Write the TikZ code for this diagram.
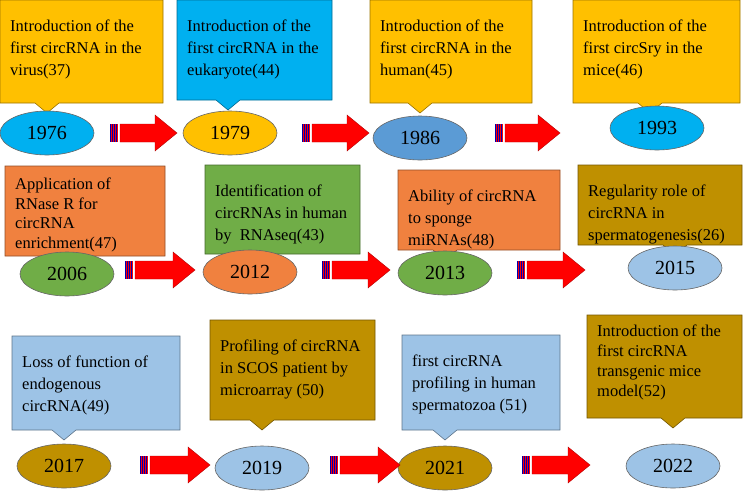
\documentclass[tikz,border=0pt]{standalone}
\usepackage{fontspec}
\setmainfont{Liberation Serif}
\usetikzlibrary{shapes.geometric}
\definecolor{gold}{HTML}{FFC000}
\definecolor{sky}{HTML}{00B0F0}
\definecolor{mblue}{HTML}{5B9BD5}
\definecolor{orng}{HTML}{F0813F}
\definecolor{grn}{HTML}{70AD47}
\definecolor{olive}{HTML}{BF9000}
\definecolor{lblue}{HTML}{9DC3E6}
\tikzset{
 box/.style={draw=#1!60!black,line width=0.6pt},
 txt/.style={anchor=north west,align=left,inner sep=0pt,font=\fontsize{16.5}{22}\selectfont},
 yr/.style={ellipse,draw=black!60,line width=0.6pt,minimum width=94pt,minimum height=44pt,font=\fontsize{20}{24}\selectfont,inner sep=0pt},
}
\newcommand{\callout}[8]{% x1 y1 x2 y2 px fill name text
 \fill[#6,box=#6] (#1,#2) -- (#3,#2) -- (#3,#4) -- (#5+12,#4) -- (#5,#4+10) -- (#5-12,#4) -- (#1,#4) -- cycle;
 \node[txt] (#7) at (#1+10,#2+20) {#8};}
\newcommand{\tlarrow}[4]{% x1 x2 y name
 \coordinate (#4) at (#1,#3);
 \fill[blue!70!black] (#1,#3-9) rectangle (#1+8,#3+9);
 \foreach \i in {1,3,5,7}{\fill[red] (#1+\i,#3-9) rectangle (#1+\i+1,#3+9);}
 \fill[red,draw=red!70!black] (#1+10,#3-9) -- (#2-22,#3-9) -- (#2-22,#3-18) -- (#2,#3) -- (#2-22,#3+18) -- (#2-22,#3+9) -- (#1+10,#3+9) -- cycle;}
\begin{document}
\begin{tikzpicture}[x=1pt,y=-1pt]
\useasboundingbox (0,0) rectangle (744,491);
% row 1
\callout{0}{0}{163}{103}{47}{gold}{b1}{Introduction of the\\first circRNA in the\\virus(37)}
\node[yr,fill=sky] (y1976) at (47,133) {1976};
\callout{177}{0}{332}{100}{228}{sky}{b2}{Introduction of the\\first circRNA in the\\eukaryote(44)}
\node[yr,fill=gold] (y1979) at (230,133) {1979};
\callout{370}{0}{532}{103}{420}{gold}{b3}{Introduction of the\\first circRNA in the\\human(45)}
\node[yr,fill=mblue] (y1986) at (420,138) {1986};
\callout{573}{0}{740}{103}{650}{gold}{b4}{Introduction of the\\first circSry in the\\mice(46)}
\node[yr,fill=sky] (y1993) at (657,128) {1993};
\tlarrow{110}{177}{133}{a1}
\tlarrow{302}{369}{133}{a2}
\tlarrow{495}{560}{133}{a3}
% row 2
\fill[orng,box=orng] (5,166) -- (165,166) -- (165,256) -- (79,256) -- (67,266) -- (55,256) -- (5,256) -- cycle;
\node[txt,font=\fontsize{16.5}{19.5}\selectfont] (b5) at (15,178) {Application of\\RNase R for\\circRNA\\enrichment(47)};
\node[yr,fill=grn] (y2006) at (67,274) {2006};
\callout{205}{165}{360}{254}{250}{grn}{b6}{Identification of\\circRNAs in human\\by~ RNAseq(43)}
\node[yr,fill=orng] (y2012) at (250,272) {2012};
\callout{398}{170}{560}{250}{445}{orng}{b7}{Ability of circRNA\\to sponge\\miRNAs(48)}
\node[yr,fill=grn] (y2013) at (445,273) {2013};
\callout{578}{165}{742}{245}{675}{olive}{b8}{Regularity role of\\circRNA in\\spermatogenesis(26)}
\node[yr,fill=lblue] (y2015) at (675,268) {2015};
\tlarrow{125}{195}{270}{a4}
\tlarrow{322}{390}{270}{a5}
\tlarrow{517}{585}{270}{a6}
% row 3
\callout{12}{336}{180}{430}{64}{lblue}{b9}{Loss of function of\\endogenous\\circRNA(49)}
\node[yr,fill=olive] (y2017) at (64,466) {2017};
\callout{210}{320}{375}{420}{262}{olive}{b10}{Profiling of circRNA\\in SCOS patient by\\microarray (50)}
\node[yr,fill=lblue] (y2019) at (262,468) {2019};
\callout{402}{335}{560}{430}{445}{lblue}{b11}{first circRNA\\profiling in human\\spermatozoa (51)}
\node[yr,fill=olive] (y2021) at (445,468) {2021};
\fill[olive,box=olive] (587,315) -- (742,315) -- (742,418) -- (685,418) -- (673,428) -- (661,418) -- (587,418) -- cycle;
\node[txt,font=\fontsize{16.5}{20}\selectfont] (b12) at (597,325) {Introduction of the\\first circRNA\\transgenic mice\\model(52)};
\node[yr,fill=lblue] (y2022) at (673,466) {2022};
\tlarrow{140}{210}{465}{a7}
\tlarrow{330}{400}{465}{a8}
\tlarrow{522}{590}{465}{a9}
\end{tikzpicture}
\end{document}
